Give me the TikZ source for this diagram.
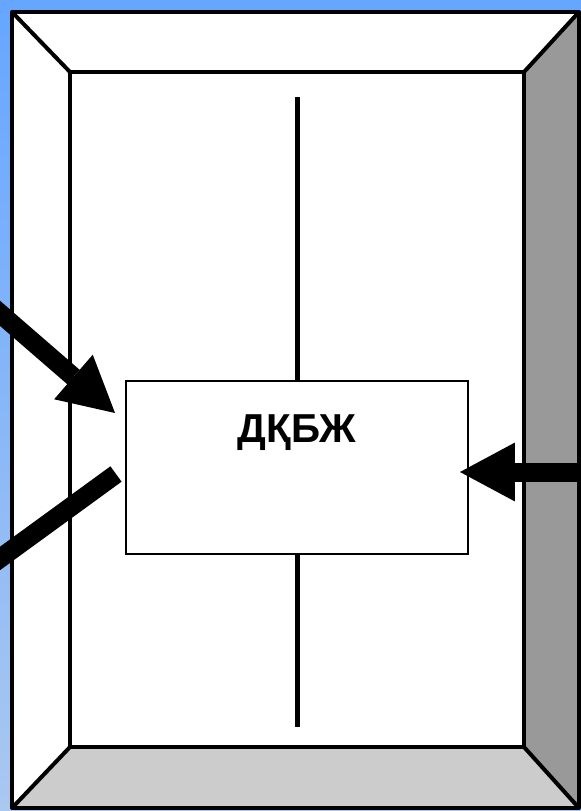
\documentclass[tikz,border=0pt]{standalone}
\usepackage{fontspec}
\setmainfont{Liberation Sans}
\usetikzlibrary{arrows.meta}
\definecolor{skyblue}{RGB}{102,166,255}
\definecolor{paleblue}{RGB}{170,200,240}
\definecolor{darkside}{RGB}{153,153,153}
\definecolor{lightside}{RGB}{204,204,204}
\begin{document}
\begin{tikzpicture}[x=0.02cm,y=-0.02cm,
    edge/.style={line width=0.08cm,line join=round},
    fat/.style={line width=0.38cm},
    fathead/.style={fat,-{Triangle[length=1.1cm,width=1.18cm,line width=0pt]}}]
            \shade[top color=skyblue,bottom color=paleblue] (0,0) rectangle (581,811);
            \useasboundingbox (0,0) rectangle (581,811);
            % frame
            \fill[white] (12,12) rectangle (579,808);
            \fill[darkside] (579,12) -- (579,808) -- (524,747) -- (524,72) -- cycle;
            \fill[lightside] (12,808) -- (579,808) -- (524,747) -- (70,747) -- cycle;
            \draw[edge] (12,12) rectangle (579,808);
            \draw[edge] (70,72) rectangle (524,747);
            \draw[edge] (12,12) -- (70,72);
            \draw[edge] (579,12) -- (524,72);
            \draw[edge] (12,808) -- (70,747);
            \draw[edge] (579,808) -- (524,747);
            % box
            \node[draw,line width=0.05cm,fill=white,minimum width=6.84cm,minimum height=3.46cm,inner sep=0pt] (box) at (297,467.5) {};
            \node[anchor=base,font=\bfseries\fontsize{23}{23}\selectfont] (name) at (297,442) {ДҚБЖ};
            \coordinate (spinetop) at (297,97);
            \coordinate (spinebot) at (297,727);
            \draw[line width=0.1cm] (spinetop) -- (box.north);
            \draw[line width=0.1cm] (box.south) -- (spinebot);
            % arrows
            \coordinate (inleft) at (-20,296);
            \coordinate (tipleft) at (115,413);
            \draw[fathead] (inleft) -- (tipleft);
            \coordinate (outleft) at (-20,573);
            \coordinate (endleft) at (116,474);
            \draw[fat] (endleft) -- (outleft);
            \coordinate (inright) at (600,472);
            \coordinate (tipright) at (460,472);
            \draw[fathead] (inright) -- (tipright);
        \end{tikzpicture}
\end{document}
